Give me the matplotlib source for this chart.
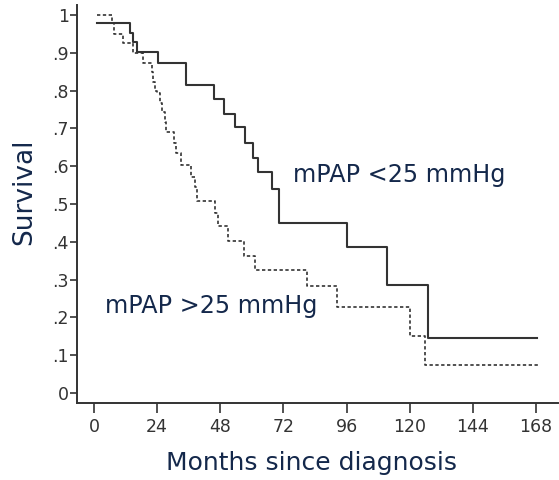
import matplotlib
matplotlib.use("Agg")
import matplotlib.pyplot as plt

# Kaplan-Meier step data (months, survival)
low_months = [1.3, 13.5, 14.8, 16.5, 24.4, 34.8, 45.5, 49.3, 53.5, 57.4, 60.3, 62.3,
              67.5, 70.4, 96.0, 111.2, 126.8, 168.4]
low_surv = [0.98, 0.952, 0.929, 0.903, 0.874, 0.815, 0.777, 0.739, 0.703, 0.662, 0.621,
            0.585, 0.540, 0.449, 0.387, 0.287, 0.145, 0.145]

high_months = [1.3, 7.0, 7.7, 11.0, 15.0, 18.7, 21.9, 22.5, 23.2, 23.8, 25.2, 25.8,
               26.8, 27.5, 30.3, 31.2, 33.2, 37.0, 38.4, 39.3, 46.0, 47.2, 51.0,
               57.1, 61.2, 81.0, 92.2, 120.0, 125.8, 169.2]
high_surv = [1.0, 0.979, 0.951, 0.925, 0.900, 0.872, 0.850, 0.824, 0.800, 0.793,
             0.768, 0.744, 0.718, 0.690, 0.661, 0.634, 0.603, 0.572, 0.546, 0.509,
             0.475, 0.442, 0.402, 0.362, 0.325, 0.283, 0.228, 0.152, 0.074, 0.074]

x_ticks = [0, 24, 48, 72, 96, 120, 144, 168]
y_ticks = [0, 0.1, 0.2, 0.3, 0.4, 0.5, 0.6, 0.7, 0.8, 0.9, 1.0]
y_tick_labels = ["0", ".1", ".2", ".3", ".4", ".5", ".6", ".7", ".8", ".9", "1"]

label_low = "mPAP <25 mmHg"
label_high = "mPAP >25 mmHg"

navy = "#14284b"
ink = "#333333"

fig = plt.figure(figsize=(5.59, 4.80), dpi=100)
ax = fig.add_axes([77 / 559, 77 / 480, 481 / 559, 398 / 480])

ax.step(low_months, low_surv, where="post", color=ink, lw=1.5)
ax.step(high_months, high_surv, where="post", color=ink, lw=1.2,
        linestyle=(0, (2.0, 1.5)))

ax.set_xlim(-6.46, 176.3)
ax.set_ylim(-0.0265, 1.0265)

ax.set_xticks(x_ticks)
ax.set_xticklabels([str(t) for t in x_ticks])
ax.set_yticks(y_ticks)
ax.set_yticklabels(y_tick_labels)

for s in ["top", "right"]:
    ax.spines[s].set_visible(False)
for s in ["left", "bottom"]:
    ax.spines[s].set_color(ink)
    ax.spines[s].set_linewidth(1.4)

ax.tick_params(axis="x", direction="out", length=7, width=1.2, colors=ink,
               labelsize=12.5, pad=4)
ax.tick_params(axis="y", direction="out", length=5, width=1.2, colors=ink,
               labelsize=12.5, pad=1)

ax.set_xlabel("Months since diagnosis", fontsize=18, color=navy)
ax.xaxis.set_label_coords((312 - 77) / 481, (403 - 463) / 398)
ax.xaxis.label.set_va("center")

ax.set_ylabel("Survival", fontsize=19, color=navy)
ax.yaxis.set_label_coords((24 - 77) / 481, (403 - 192) / 398)
ax.yaxis.label.set_va("center")

ax.text(75.6, 0.577, label_low, fontsize=17.2, color=navy, va="center", ha="left")
ax.text(4.2, 0.23, label_high, fontsize=17.2, color=navy, va="center", ha="left")

fig.savefig("out.png", dpi=100)
